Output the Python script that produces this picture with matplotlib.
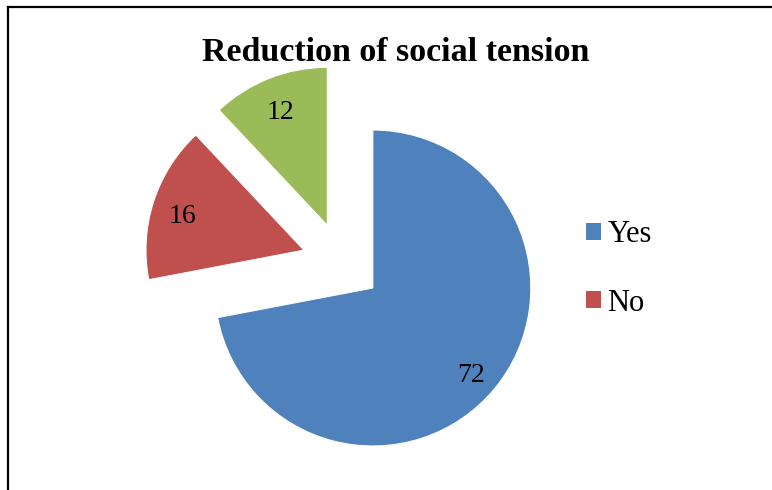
import matplotlib.pyplot as plt
from matplotlib.lines import Line2D

# data
categories = ['Yes', 'No', '']
values = [72, 16, 12]
colors = ['#4F81BD', '#C0504D', '#9BBB59']
title = 'Reduction of social tension'

W, H = 772, 490

plt.rcParams['font.family'] = ['Liberation Serif', 'DejaVu Serif']

fig = plt.figure(figsize=(W / 100, H / 100), dpi=100)
ax = fig.add_axes([0, 0, 1, 1])

# pie in pixel units (y measured up from the bottom)
radius = 158
center = (342, H - 262.5)
explode = [40] * len(values)

wedges, texts, autotexts = ax.pie(
    values, colors=colors, explode=explode, radius=radius, center=center,
    startangle=90, counterclock=False, autopct='%.0f', pctdistance=0.81,
    wedgeprops=dict(linewidth=0.8, edgecolor='white'),
    textprops=dict(fontsize=20, color='black'))
for t in autotexts:
    t.set_va('center_baseline')
    x, y = t.get_position()
    t.set_position((x, y - 3))  # excel centres the text box a touch lower

ax.set_xlim(0, W)
ax.set_ylim(0, H)
ax.set_aspect('equal')
ax.axis('off')

fig.text(396 / W, 1 - 61 / H, title, ha='center', va='baseline',
         fontsize=24.5, fontweight='bold')

# legend shows only the first two entries, as in the original
leg = ax.legend(wedges[:2], categories[:2], loc='center left',
                bbox_to_anchor=(586 / W, 1 - 269 / H), frameon=False,
                fontsize=22, handlelength=0.5, handleheight=0.5,
                handletextpad=0.2, labelspacing=1.28, borderpad=0,
                borderaxespad=0)
for h in leg.legend_handles:
    h.set_edgecolor('none')

# chart border (only the top and left edges are inside the crop)
fig.add_artist(Line2D([8 / W, 8 / W], [0, 1 - 7.5 / H], transform=fig.transFigure,
                      color='black', lw=1.6))
fig.add_artist(Line2D([8 / W, 1], [1 - 7.5 / H, 1 - 7.5 / H], transform=fig.transFigure,
                      color='black', lw=1.6))

fig.savefig('out.png', dpi=100)
